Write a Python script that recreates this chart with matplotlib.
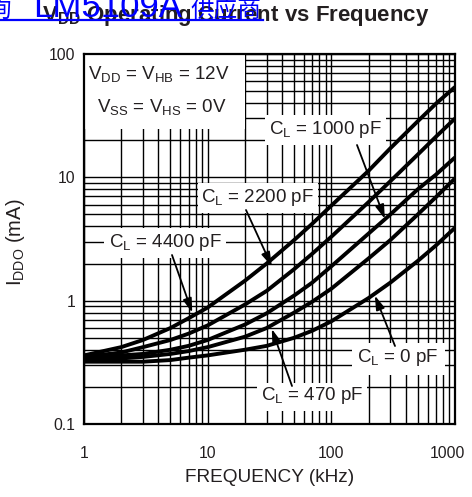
import matplotlib
matplotlib.use('Agg')
import matplotlib.pyplot as plt
from matplotlib.patches import Rectangle
from matplotlib.lines import Line2D
from matplotlib.ticker import FixedLocator, FixedFormatter, NullFormatter
from matplotlib.transforms import ScaledTranslation

plt.rcParams['font.family'] = ['Liberation Sans', 'DejaVu Sans']
plt.rcParams['mathtext.fontset'] = 'custom'
plt.rcParams['mathtext.rm'] = 'Liberation Sans'
plt.rcParams['mathtext.it'] = 'Liberation Sans:italic'
plt.rcParams['mathtext.bf'] = 'Liberation Sans:bold'

# ---------------- data ----------------
freq_khz = [1, 2, 3, 5, 7, 10, 20, 30, 50, 70, 100, 200, 300, 500, 700, 1000]
i_4400pf = [0.36, 0.42, 0.48, 0.60, 0.72, 0.88, 1.45, 2.0, 3.1, 4.2, 5.9, 11.3, 17.2, 28.5, 39.5, 54]
i_2200pf = [0.35, 0.38, 0.42, 0.48, 0.54, 0.63, 0.93, 1.2, 1.8, 2.4, 3.3, 6.3, 9.3, 15.3, 21.3, 30]
i_1000pf = [0.34, 0.36, 0.37, 0.40, 0.43, 0.48, 0.64, 0.79, 1.1, 1.4, 1.9, 3.5, 5.0, 8.0, 10.5, 14.5]
i_470pf = [0.33, 0.34, 0.35, 0.37, 0.39, 0.42, 0.51, 0.60, 0.80, 0.98, 1.25, 2.2, 3.1, 5.0, 6.9, 9.8]
i_0pf = [0.32, 0.32, 0.32, 0.33, 0.345, 0.36, 0.40, 0.43, 0.50, 0.57, 0.68, 1.05, 1.4, 2.1, 2.8, 3.9]
series = [i_4400pf, i_2200pf, i_1000pf, i_470pf, i_0pf]

x_ticks = [1, 10, 100, 1000]
x_ticklabels = ['1', '10', '100', '1000']
y_ticks = [0.1, 1, 10, 100]
y_ticklabels = ['0.1', '1', '10', '100']

load_labels = ['1000 pF', '2200 pF', '4400 pF', '0 pF', '470 pF']
# arrow tips (frequency kHz, current mA) on the curves
arrow_tip_f = [271, 33, 7.5, 225, 33]
arrow_tip_i = [4.6, 1.9, 0.80, 1.1, 0.59]

# ---------------- figure ----------------
W, H = 472, 497
fig = plt.figure(figsize=(W / 100, H / 100), dpi=100)


def fx(x):
    return x / W


def fy(y):
    return 1 - y / H


ax = fig.add_axes([fx(84), fy(424), (455 - 84) / W, (424 - 54) / H])
ax.set_xscale('log')
ax.set_yscale('log')
ax.set_xlim(1, 1000)
ax.set_ylim(0.1, 100)
ax.set_axisbelow(True)
ax.grid(True, which='both', color='black', lw=1.0)
for s in ax.spines.values():
    s.set_linewidth(1.6)
    s.set_zorder(5)

ax.xaxis.set_major_locator(FixedLocator(x_ticks))
ax.xaxis.set_major_formatter(FixedFormatter(x_ticklabels))
ax.yaxis.set_major_locator(FixedLocator(y_ticks))
ax.yaxis.set_major_formatter(FixedFormatter(y_ticklabels))
ax.xaxis.set_minor_formatter(NullFormatter())
ax.yaxis.set_minor_formatter(NullFormatter())
ax.tick_params(which='both', length=0, labelsize=11.3, colors='#231f20')
ax.tick_params(axis='x', pad=16)
ax.tick_params(axis='y', pad=6)

for vals in series:
    ax.plot(freq_khz, vals, color='black', lw=2.8, zorder=3,
            solid_joinstyle='round', solid_capstyle='butt')

ax.set_xlabel('FREQUENCY (kHz)', fontsize=13.7, color='#231f20')
ax.xaxis.set_label_coords((270 - 84) / 371, (424 - 477) / 370)
ax.xaxis.label.set_va('center')
ax.set_ylabel(r'I$_\mathregular{DDO}$ (mA)', fontsize=14.5, color='#231f20')
ax.yaxis.set_label_coords((16 - 84) / 371, (424 - 242) / 370)
ax.yaxis.label.set_va('center')


def white_box(x0, y0, x1, y1):
    r = Rectangle((fx(x0), fy(y1)), (x1 - x0) / W, (y1 - y0) / H,
                  transform=fig.transFigure, facecolor='white',
                  edgecolor='none', zorder=2.2)
    ax.add_patch(r)


# condition box
white_box(84, 54, 245, 129)
ax.text(fx(88), fy(74), r'V$_\mathregular{DD}$ = V$_\mathregular{HB}$ = 12V',
        transform=fig.transFigure, ha='left', va='center', fontsize=13.5,
        color='#231f20', zorder=4)
ax.text(fx(97), fy(107), r'V$_\mathregular{SS}$ = V$_\mathregular{HS}$ = 0V',
        transform=fig.transFigure, ha='left', va='center', fontsize=13.5,
        color='#231f20', zorder=4)

# label boxes (pixel) and text centres, arrow tails
boxes = [(265, 115, 386, 145), (198, 183, 318, 213), (104, 228, 226, 258),
         (352, 343, 445, 375), (257, 383, 367, 411)]
centres = [(325, 129), (257, 197), (165, 242), (398, 358), (312, 396)]
tails = [(357, 145), (246, 210), (172, 255), (395, 346), (292, 386)]

for lab, box, c, t, tf, ti in zip(load_labels, boxes, centres, tails,
                                  arrow_tip_f, arrow_tip_i):
    white_box(*box)
    ax.text(fx(c[0]), fy(c[1]), r'C$_\mathregular{L}$ = ' + lab,
            transform=fig.transFigure, ha='center', va='center',
            fontsize=13.5, color='#231f20', zorder=4)
    ax.annotate('', xy=(tf, ti), xycoords='data',
                xytext=(fx(t[0]), fy(t[1])), textcoords='figure fraction',
                arrowprops=dict(arrowstyle='-|>,head_length=0.7,head_width=0.22',
                                color='black', lw=1.3, shrinkA=0, shrinkB=0,
                                mutation_scale=12),
                zorder=4)

# title
fig.text(fx(236), fy(21), r'$\mathbf{V_{DD}}$ Operating Current vs Frequency',
         ha='center', va='baseline', fontsize=16, fontweight='bold',
         color='#231f20')

# overlaid blue link text (top cut off)
cjk = ['Noto Sans CJK SC', 'DejaVu Sans']
fig.text(fx(-13), fy(17), '询', color='#0000ff', fontsize=17, family=cjk,
         va='baseline', ha='left', zorder=10)
fig.text(fx(33), fy(17), 'LM5109A', color='#0000ff', fontsize=25,
         va='baseline', ha='left', zorder=10)
fig.text(fx(190), fy(17), '供应商', color='#0000ff', fontsize=17, family=cjk,
         va='baseline', ha='left', zorder=10)
fig.add_artist(Line2D([0, fx(263)], [fy(20), fy(20)], color='#0000ff', lw=1.6,
                      zorder=10))

# last x tick label sits left of its tick, as in the reference
fig.canvas.draw()
lbls = ax.get_xticklabels()
lbls[-1].set_transform(lbls[-1].get_transform() +
                       ScaledTranslation(-8 / 100, 0, fig.dpi_scale_trans))

fig.savefig('out.png', dpi=100)
